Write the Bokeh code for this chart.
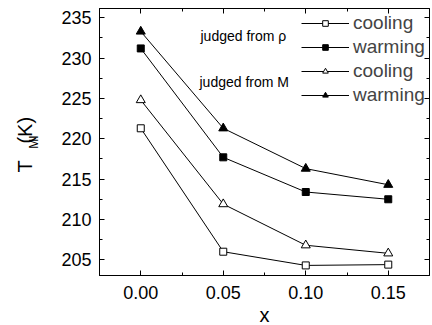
import math
from bokeh.plotting import figure
from bokeh.models import (Range1d, LinearAxis, SingleIntervalTicker, NumeralTickFormatter,
                          Label, Legend, LegendItem, Title)
from bokeh.embed import file_html
from bokeh.resources import INLINE

# ---- data ----
x_vals = [0.00, 0.05, 0.10, 0.15]
rho_cooling = [221.3, 206.0, 204.3, 204.4]
rho_warming = [231.2, 217.7, 213.4, 212.5]
m_cooling = [224.8, 211.9, 206.8, 205.8]
m_warming = [233.3, 221.3, 216.3, 214.3]
series_labels = ["cooling", "warming", "cooling", "warming"]
annot_rho = "judged from \u03c1"
annot_m = "judged from M"
x_title = "x"
y_title_main = "T\u00a0\u00a0\u00a0(K)"
y_title_sub = "MI"

FONT = "Liberation Sans"

p = figure(frame_width=330, frame_height=267, output_backend="svg", toolbar_location=None,
           x_range=Range1d(-0.025, 0.175), y_range=Range1d(203.05, 236.15),
           min_border_left=99, min_border_right=3, min_border_top=8, min_border_bottom=50,
           x_axis_type=None, y_axis_type=None)
p.outline_line_color = "black"
p.outline_line_width = 1
p.background_fill_color = "white"
p.border_fill_color = "white"

xticker = SingleIntervalTicker(interval=0.05, num_minor_ticks=2)
yticker = SingleIntervalTicker(interval=5, num_minor_ticks=2)


def style(ax, labels=True):
    ax.axis_line_color = "black"
    ax.major_tick_line_color = "black"
    ax.minor_tick_line_color = "black"
    ax.major_tick_in = 5
    ax.major_tick_out = 0
    ax.minor_tick_in = 3
    ax.minor_tick_out = 0
    ax.major_label_text_font = FONT
    if labels:
        ax.major_label_text_color = "black"
        ax.major_label_text_font_size = "18px"
        ax.major_label_standoff = 8
    else:
        ax.major_label_text_color = None
        ax.major_label_text_font_size = "1px"
        ax.major_label_standoff = 0


bottom = LinearAxis(ticker=xticker, formatter=NumeralTickFormatter(format="0.00"))
style(bottom)
bottom.major_label_standoff = 10
bottom.axis_label = x_title
bottom.axis_label_text_font = FONT
bottom.axis_label_text_font_size = "20px"
bottom.axis_label_text_font_style = "normal"
bottom.axis_label_text_color = "black"
bottom.axis_label_standoff = 2
p.add_layout(bottom, "below")

top = LinearAxis(ticker=xticker)
style(top, labels=False)
p.add_layout(top, "above")

left = LinearAxis(ticker=yticker)
style(left)
left.axis_label = y_title_sub
left.axis_label_text_font = FONT
left.axis_label_text_font_size = "12px"
left.axis_label_text_font_style = "normal"
left.axis_label_text_color = "black"
left.axis_label_standoff = 17
p.add_layout(left, "left")

right = LinearAxis(ticker=yticker)
style(right, labels=False)
p.add_layout(right, "right")

ytitle = Title(text=y_title_main, text_font=FONT, text_font_size="20px",
               text_font_style="normal", text_color="black",
               align="left", vertical_align="bottom", offset=103)
try:
    ytitle.standoff = -22
except Exception:
    ytitle.standoff = 0
p.add_layout(ytitle, "left")

items = []
specs = [(rho_cooling, "square", "white", 7),
         (rho_warming, "square", "black", 7),
         (m_cooling, "triangle", "white", 9),
         (m_warming, "triangle", "black", 9)]
for (ys, mk, fill, sz), lab in zip(specs, series_labels):
    rl = p.line(x_vals, ys, line_color="black", line_width=1)
    rs = p.scatter(x_vals, ys, marker=mk, size=sz, fill_color=fill, line_color="black", line_width=1)
    items.append(LegendItem(label=lab, renderers=[rl, rs]))

legend = Legend(items=items, location=(202, 169), border_line_color=None,
                background_fill_alpha=0, label_text_font=FONT, label_text_font_size="19px",
                glyph_width=48, glyph_height=14, label_height=22, spacing=2,
                padding=5, margin=0, label_standoff=4)
p.add_layout(legend)

p.add_layout(Label(x=101, y=240, x_units="screen", y_units="screen", text=annot_rho,
                   text_font=FONT, text_font_size="14px", text_baseline="middle",
                   text_align="left", text_color="black"))
p.add_layout(Label(x=100, y=194, x_units="screen", y_units="screen", text=annot_m,
                   text_font=FONT, text_font_size="14px", text_baseline="middle",
                   text_align="left", text_color="black"))

open("out.html", "w").write(file_html(p, INLINE))
